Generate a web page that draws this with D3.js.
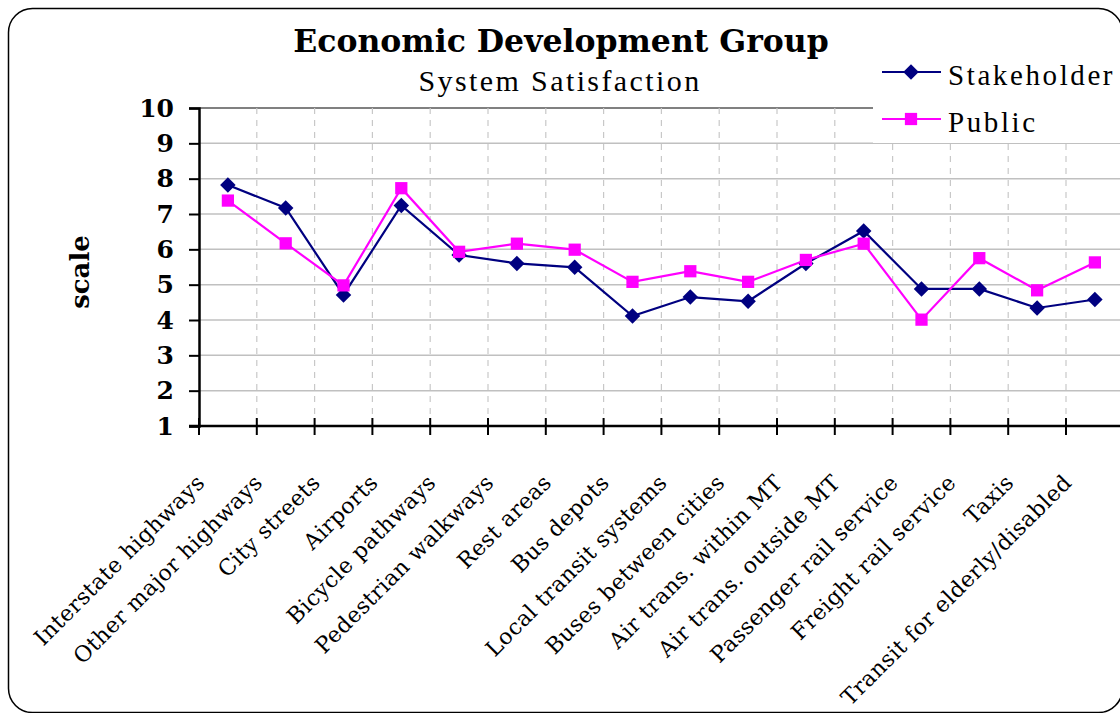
<!DOCTYPE html>
<html>
<head>
<meta charset="utf-8">
<script src="https://cdn.jsdelivr.net/npm/d3@7"></script>
<style>
    body { margin: 0; background: #fff; }
    svg { display: block; }
</style>
</head>
<body>
<div id="chart"></div>
<script>
// Categories along the x axis
var categories = [
    "Interstate highways", "Other major highways", "City streets", "Airports",
    "Bicycle pathways", "Pedestrian walkways", "Rest areas", "Bus depots",
    "Local transit systems", "Buses between cities", "Air trans. within MT",
    "Air trans. outside MT", "Passenger rail service", "Freight rail service",
    "Taxis", "Transit for elderly/disabled"
];

// Satisfaction scores
var stakeholderValues = [7.82, 7.17, 4.71, 7.24, 5.84, 5.60, 5.49, 4.11, 4.65, 4.53, 5.60, 6.52, 4.88, 4.88, 4.34, 4.58];
var publicValues = [7.38, 6.17, 4.98, 7.73, 5.93, 6.16, 5.99, 5.08, 5.38, 5.08, 5.70, 6.16, 4.01, 5.75, 4.84, 5.63];

var yTicks = [1, 2, 3, 4, 5, 6, 7, 8, 9, 10];
var seriesNames = ["Stakeholder", "Public"];

var width = 1120, height = 713;
var marginLeft = 199, plotTop = 108, plotBottom = 426, bandWidth = 57.8;

var svg = d3.select("#chart").append("svg")
    .attr("width", width)
    .attr("height", height);

// rounded chart frame
svg.append("rect")
    .attr("x", 8.5).attr("y", 8.5)
    .attr("width", 1114).attr("height", 704)
    .attr("rx", 24).attr("ry", 24)
    .attr("fill", "#fff")
    .attr("stroke", "#000")
    .attr("stroke-width", 1.5);

var xScale = d3.scaleBand()
    .domain(categories)
    .range([marginLeft, marginLeft + bandWidth * categories.length])
    .padding(0);

var yScale = d3.scaleLinear()
    .domain([1, 10])
    .range([plotBottom, plotTop]);

var plotRight = xScale.range()[1];

// horizontal grid
svg.append("g").attr("class", "grid-y")
    .selectAll("line")
    .data(yTicks.filter(function (d) { return d > 1; }))
    .enter().append("line")
    .attr("x1", marginLeft).attr("x2", plotRight)
    .attr("y1", function (d) { return yScale(d); })
    .attr("y2", function (d) { return yScale(d); })
    .attr("stroke", function (d) { return d === 10 ? "#808080" : "#c0c0c0"; })
    .attr("stroke-width", function (d) { return d === 10 ? 2 : 1.5; });

// vertical dashed grid on band boundaries
svg.append("g").attr("class", "grid-x")
    .selectAll("line")
    .data(categories.slice(1))
    .enter().append("line")
    .attr("x1", function (d) { return xScale(d); })
    .attr("x2", function (d) { return xScale(d); })
    .attr("y1", plotTop).attr("y2", plotBottom)
    .attr("stroke", "#c8c8c8")
    .attr("stroke-width", 1.2)
    .attr("stroke-dasharray", "6,6");

// y axis
var yAxis = d3.axisLeft(yScale).tickValues(yTicks).tickSize(10).tickPadding(15)
    .tickFormat(d3.format("d"));
var yAxisG = svg.append("g")
    .attr("class", "axis y-axis")
    .attr("transform", "translate(" + marginLeft + ",0)")
    .call(yAxis);
yAxisG.select(".domain").attr("stroke", "#000").attr("stroke-width", 2.5);
yAxisG.selectAll(".tick line").attr("stroke", "#000").attr("stroke-width", 2);
yAxisG.selectAll(".tick text")
    .attr("fill", "#000")
    .style("font-family", "'DejaVu Serif', serif")
    .style("font-weight", "bold")
    .style("font-size", "25px");

// x axis with cross ticks on band boundaries
var xAxisG = svg.append("g").attr("class", "axis x-axis");
xAxisG.append("line")
    .attr("x1", marginLeft - 10).attr("x2", plotRight)
    .attr("y1", plotBottom).attr("y2", plotBottom)
    .attr("stroke", "#000").attr("stroke-width", 2.5);
xAxisG.selectAll(".xtick")
    .data(categories)
    .enter().append("line")
    .attr("class", "xtick")
    .attr("x1", function (d) { return xScale(d); })
    .attr("x2", function (d) { return xScale(d); })
    .attr("y1", plotBottom - 8).attr("y2", plotBottom + 9)
    .attr("stroke", "#000").attr("stroke-width", 2);

// rotated category labels
xAxisG.selectAll(".xlabel")
    .data(categories)
    .enter().append("text")
    .attr("class", "xlabel")
    .attr("transform", function (d) {
        var cx = xScale(d) + xScale.bandwidth() / 2 - 22;
        return "translate(" + cx + "," + (plotBottom + 58) + ") rotate(-45)";
    })
    .attr("text-anchor", "end")
    .style("font-family", "'DejaVu Serif', serif")
    .style("font-size", "22px")
    .style("letter-spacing", "0.4px")
    .attr("fill", "#000")
    .text(function (d) { return d; });

// y axis title
svg.append("text")
    .attr("transform", "translate(89,272) rotate(-90)")
    .attr("text-anchor", "middle")
    .style("font-family", "'DejaVu Serif', serif")
    .style("font-weight", "bold")
    .style("font-size", "26px")
    .text("scale");

// titles
svg.append("text")
    .attr("x", 561).attr("y", 52)
    .attr("text-anchor", "middle")
    .style("font-family", "'DejaVu Serif', serif")
    .style("font-weight", "bold")
    .style("font-size", "31.5px")
    .text("Economic Development Group");

svg.append("text")
    .attr("x", 560).attr("y", 91)
    .attr("text-anchor", "middle")
    .style("font-family", "'Liberation Serif', serif")
    .style("font-size", "30px")
    .style("letter-spacing", "2.4px")
    .text("System Satisfaction");

// series
var series = [
    {name: seriesNames[0], values: stakeholderValues, color: "#000080", symbol: d3.symbolSquare, size: 120, rotate: 45},
    {name: seriesNames[1], values: publicValues, color: "#ff00ff", symbol: d3.symbolSquare, size: 150, rotate: 0}
];

var line = d3.line()
    .x(function (d, i) { return xScale(categories[i]) + xScale.bandwidth() / 2; })
    .y(function (d) { return yScale(d); });

series.forEach(function (s) {
    var g = svg.append("g").attr("class", "series");
    g.append("path")
        .datum(s.values)
        .attr("d", line)
        .attr("fill", "none")
        .attr("stroke", s.color)
        .attr("stroke-width", 2.2);
    g.selectAll(".marker")
        .data(s.values)
        .enter().append("path")
        .attr("class", "marker")
        .attr("d", d3.symbol().type(s.symbol).size(s.size))
        .attr("transform", function (d, i) {
            return "translate(" + (xScale(categories[i]) + xScale.bandwidth() / 2) + "," + yScale(d) + ") rotate(" + s.rotate + ")";
        })
        .attr("fill", s.color);
});

// legend (white box over the grid)
var legend = svg.append("g").attr("class", "legend");
legend.append("rect")
    .attr("x", 873).attr("y", 40)
    .attr("width", 250).attr("height", 103)
    .attr("fill", "#fff");
series.forEach(function (s, i) {
    var ly = 72 + i * 47;
    legend.append("line")
        .attr("x1", 882).attr("x2", 941)
        .attr("y1", ly).attr("y2", ly)
        .attr("stroke", s.color).attr("stroke-width", 2.2);
    legend.append("path")
        .attr("d", d3.symbol().type(s.symbol).size(s.size))
        .attr("transform", "translate(911," + ly + ") rotate(" + s.rotate + ")")
        .attr("fill", s.color);
    legend.append("text")
        .attr("x", 948).attr("y", ly + 4)
        .attr("dy", "0.3em")
        .style("font-family", "'Liberation Serif', serif")
        .style("font-size", "29px")
        .style("letter-spacing", "2.6px")
        .text(s.name);
});
</script>
</body>
</html>
